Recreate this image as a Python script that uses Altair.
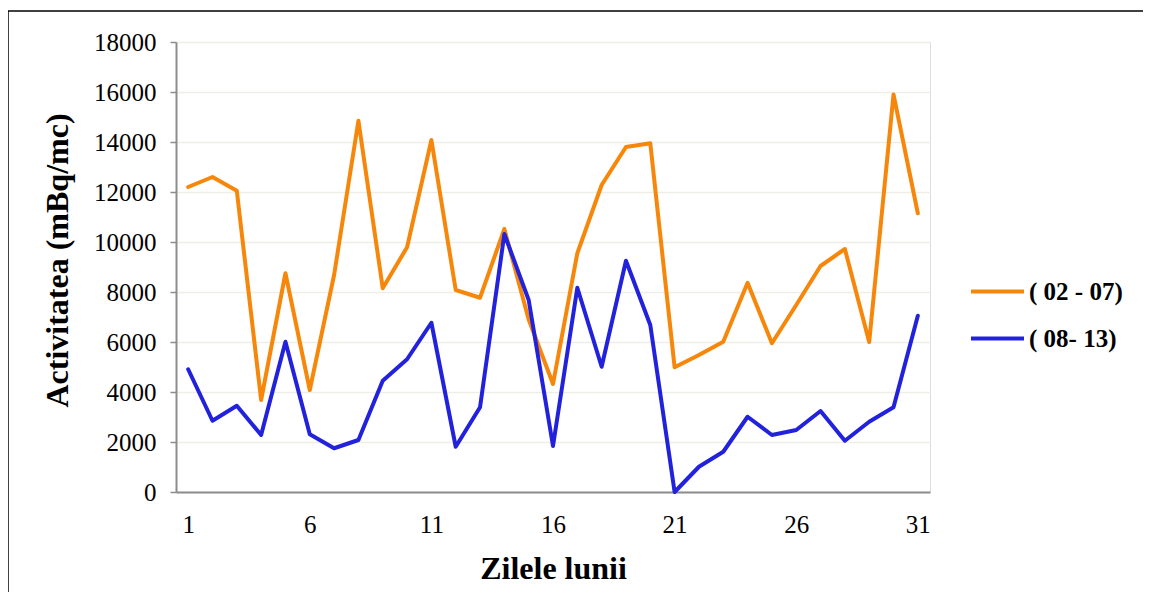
import altair as alt
import pandas as pd

days = list(range(1, 32))
series_a_name = "( 02 - 07)"
series_b_name = "( 08- 13)"
series_a = [12200, 12600, 12050, 3680, 8750, 4080, 8680, 14850, 8150, 9790,
            14080, 8080, 7770, 10520, 6900, 4320, 9550, 12280, 13800, 13950,
            4990, 5480, 6010, 8370, 5950, 7480, 9040, 9720, 6000, 15900, 11150]
series_b = [4910, 2850, 3450, 2280, 6010, 2310, 1750, 2080, 4450, 5310,
            6770, 1810, 3390, 10320, 7680, 1840, 8170, 5010, 9250, 6680,
            0, 1010, 1610, 3010, 2280, 2480, 3240, 2050, 2810, 3390, 7050]
y_ticks = list(range(0, 18001, 2000))
x_ticks = [1, 6, 11, 16, 21, 26, 31]

df = pd.DataFrame({
    "day": days * 2,
    "value": series_a + series_b,
    "series": [series_a_name] * 31 + [series_b_name] * 31,
})

FONT = "Liberation Serif"

lines = alt.Chart(df).mark_line(strokeWidth=4, strokeJoin="round", strokeCap="round").encode(
    x=alt.X("day:O", scale=alt.Scale(padding=0.5),
            axis=alt.Axis(values=x_ticks, labelAngle=0, ticks=False, grid=False,
                          domainColor="#8c8c8c", domainWidth=2,
                          labelFont=FONT, labelFontSize=25, labelColor="black",
                          labelPadding=20,
                          title="Zilele lunii", titleFont=FONT, titleFontSize=32,
                          titleFontWeight="bold", titleColor="black",
                          titleX=377, titleY=76, titleBaseline="middle")),
    y=alt.Y("value:Q", scale=alt.Scale(domain=[0, 18000], nice=False),
            axis=alt.Axis(values=y_ticks, format="d", grid=True, gridColor="#eeeee6",
                          gridWidth=1.5, tickSize=6, tickColor="#8c8c8c", tickWidth=1.5,
                          domainColor="#8c8c8c", domainWidth=2,
                          labelFont=FONT, labelFontSize=25, labelColor="black",
                          labelPadding=14,
                          title="Activitatea (mBq/mc)", titleFont=FONT, titleFontSize=32,
                          titleFontWeight="bold", titleColor="black",
                          titleX=-119, titleY=218, titleBaseline="middle")),
    color=alt.Color("series:N",
                    scale=alt.Scale(domain=[series_a_name, series_b_name],
                                    range=["#f7870a", "#2222dd"]),
                    legend=alt.Legend(title=None, orient="none", legendX=793, legendY=221,
                                      symbolType="stroke", symbolSize=2809,
                                      symbolStrokeWidth=4, labelFont=FONT,
                                      labelFontSize=25, labelFontWeight="bold",
                                      labelColor="black", labelOffset=3,
                                      rowPadding=5, padding=0)),
)

frame_df = pd.DataFrame({"k": [0]})
top_edge = alt.Chart(frame_df).mark_rule(stroke="black", strokeWidth=1.5).encode(
    x=alt.value(-168), x2=alt.value(1000), y=alt.value(-31)
)
left_edge = alt.Chart(frame_df).mark_rule(stroke="black", strokeWidth=1.5).encode(
    x=alt.value(-168), y=alt.value(-31), y2=alt.value(600)
)

chart = alt.layer(top_edge, left_edge, lines).properties(
    width=754, height=450,
    padding={"left": 168, "top": 34, "right": 213, "bottom": 100},
    autosize=alt.AutoSizeParams(type="none"),
).configure_view(stroke=None).configure_axis(
    labelFont=FONT, titleFont=FONT
).configure_legend(labelFont=FONT).configure(
    font=FONT,
    style={"guide-label": {"font": FONT}, "guide-title": {"font": FONT}},
)

chart.save("out.html", embed_options={"renderer": "svg", "actions": False})
